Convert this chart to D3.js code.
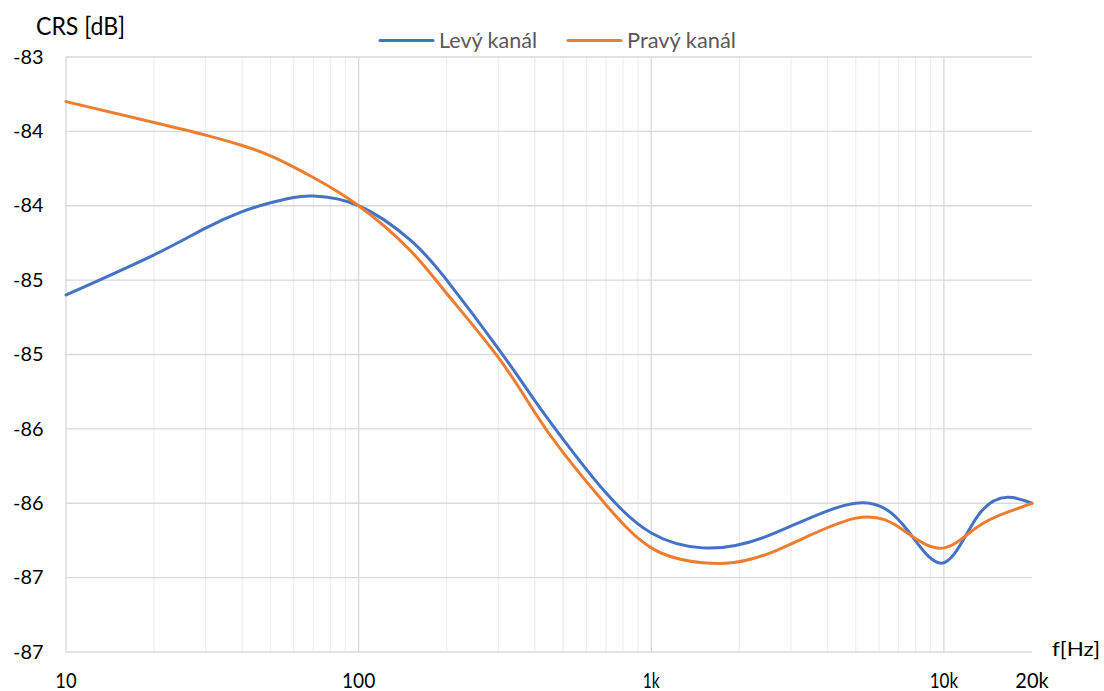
<!DOCTYPE html>
<html><head><meta charset="utf-8">
<script src="https://cdn.jsdelivr.net/npm/d3@7"></script>
<style>
body{margin:0;background:#fff;}
svg{display:block;font-family:Lato,"Open Sans",sans-serif;}
</style></head>
<body><svg id="chart" width="1104" height="691"></svg>
<script>
const freqs = [10,20,30,40,50,60,70,100,150,200,300,400,500,700,1000,1500,2500,5000,7500,10000,13000,16500,20000];
const levy  = [-84.60,-84.33,-84.15,-84.04,-83.98,-83.945,-83.935,-84.00,-84.23,-84.50,-84.96,-85.31,-85.57,-85.93,-86.20,-86.30,-86.22,-86.00,-86.18,-86.40,-86.09,-85.96,-86.00];
const pravy = [-83.30,-83.44,-83.525,-83.595,-83.665,-83.74,-83.81,-84.00,-84.30,-84.59,-85.02,-85.39,-85.66,-86.01,-86.30,-86.40,-86.34,-86.10,-86.20,-86.30,-86.16,-86.06,-86.00];
const seriesNames = ["Levý kanál","Pravý kanál"];
const yTicks = [-87,-86.5,-86,-85.5,-85,-84.5,-84,-83.5,-83];
const xTickVals = [10,100,1000,10000,20000];
const xTickLabels = ["10","100","1k","10k","20k"];
const colors = ["#4472C4","#ED7D31"];

const svg = d3.select("#chart");
const pL=66,pR=1032,pT=57,pB=652;
const x = d3.scaleLog().domain([10,20000]).range([pL,pR]);
const y = d3.scaleLinear().domain([-87,-83]).range([pB,pT]);

// minor vertical grid
const minor=[];
[10,100,1000,10000].forEach(d=>{for(let k=2;k<=9;k++){const v=d*k; if(v<20000) minor.push(v);}});
svg.append("g").selectAll("line").data(minor).join("line")
  .attr("x1",d=>x(d)).attr("x2",d=>x(d)).attr("y1",pT).attr("y2",pB)
  .attr("stroke","#efefef").attr("stroke-width",1.3);
// horizontal grid
svg.append("g").selectAll("line").data(yTicks).join("line")
  .attr("x1",pL).attr("x2",pR).attr("y1",d=>y(d)).attr("y2",d=>y(d))
  .attr("stroke","#d9d9d9").attr("stroke-width",1.3);
// major vertical grid
svg.append("g").selectAll("line").data([10,100,1000,10000]).join("line")
  .attr("x1",d=>x(d)).attr("x2",d=>x(d)).attr("y1",pT).attr("y2",pB)
  .attr("stroke","#d9d9d9").attr("stroke-width",1.3);

// y labels (Excel-style rounding to integer, half away from zero)
svg.append("g").selectAll("text").data(yTicks).join("text")
  .attr("x",43.5).attr("y",d=>y(d)+6.7).attr("text-anchor","end")
  .attr("font-size",18.5).attr("fill","#000")
  .attr("textLength",30.5).attr("lengthAdjust","spacingAndGlyphs")
  .text(d=>"-"+Math.floor(Math.abs(d)+0.5));

// x labels
const xLabW = {"10":21.3,"100":33.3,"1k":17,"10k":28.3,"20k":33.3};
svg.append("g").selectAll("text").data(xTickVals).join("text")
  .attr("x",d=>x(d)).attr("y",688).attr("text-anchor","middle")
  .attr("font-size",21).attr("fill","#000")
  .attr("textLength",(d,i)=>xLabW[xTickLabels[i]]).attr("lengthAdjust","spacingAndGlyphs")
  .text((d,i)=>xTickLabels[i]);

// axis titles
svg.append("text").attr("x",36).attr("y",35).attr("font-size",24.5).attr("fill","#000")
  .attr("textLength",89).attr("lengthAdjust","spacingAndGlyphs").text("CRS [dB]");
svg.append("text").attr("x",1052).attr("y",656).attr("font-size",20).attr("fill","#000")
  .attr("textLength",48).attr("lengthAdjust","spacingAndGlyphs").text("f[Hz]");

// lines
const line = d3.line().x(d=>x(d[0])).y(d=>y(d[1])).curve(d3.curveNatural);
[levy,pravy].forEach((s,i)=>{
  svg.append("path").datum(freqs.map((f,j)=>[f,s[j]]))
    .attr("d",line).attr("fill","none").attr("stroke",colors[i]).attr("stroke-width",3).attr("stroke-linecap","round");
});

// legend
const leg = [{x:380,name:seriesNames[0],c:colors[0],w:98},{x:568,name:seriesNames[1],c:colors[1],w:109}];
leg.forEach(l=>{
  svg.append("line").attr("x1",l.x).attr("x2",l.x+53).attr("y1",40.5).attr("y2",40.5).attr("stroke",l.c).attr("stroke-width",3).attr("stroke-linecap","round");
  svg.append("text").attr("x",l.x+59).attr("y",47.7).attr("font-size",22).attr("fill","#595959")
    .attr("textLength",l.w).attr("lengthAdjust","spacingAndGlyphs").text(l.name);
});
</script></body></html>
